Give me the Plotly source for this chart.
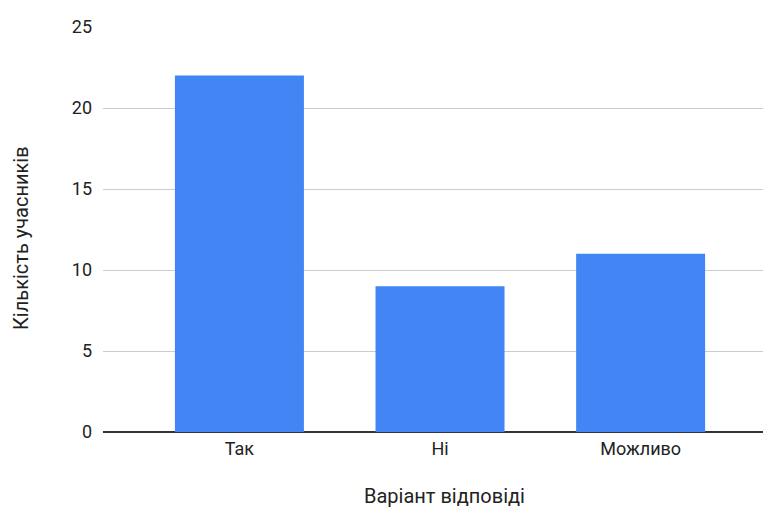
import plotly.graph_objects as go

categories = ["Так", "Ні", "Можливо"]
counts = [22, 9, 11]
y_ticks = [0, 5, 10, 15, 20, 25]

fig = go.Figure(
    go.Bar(
        x=categories,
        y=counts,
        width=0.643,
        marker=dict(color="#4285f4", line=dict(width=0)),
        hoverinfo="x+y",
    )
)

font = dict(family="Roboto, Arial, sans-serif", size=18, color="#222222")

fig.update_layout(
    width=763,
    height=509,
    margin=dict(l=103, r=0, t=27, b=77),
    paper_bgcolor="white",
    plot_bgcolor="white",
    showlegend=False,
    font=font,
    xaxis=dict(
        type="category",
        range=[-0.68, 2.61],
        showgrid=False,
        showline=False,
        ticks="",
        ticklabelstandoff=4,
        tickfont=dict(size=18, color="#222222"),
        fixedrange=True,
    ),
    yaxis=dict(
        range=[0, 25],
        tickvals=y_ticks,
        showgrid=True,
        gridcolor="#cccccc",
        gridwidth=1,
        zeroline=True,
        zerolinecolor="#333333",
        zerolinewidth=1.5,
        showline=False,
        ticks="",
        ticklabelstandoff=10,
        tickfont=dict(size=18, color="#222222"),
        fixedrange=True,
    ),
    annotations=[
        dict(
            text="Варіант відповіді",
            xref="paper", yref="paper",
            x=(444 - 103) / 660, y=-(496 - 432) / 405,
            showarrow=False, xanchor="center", yanchor="middle",
            borderpad=0,
            font=dict(size=20, color="#222222"),
        ),
        dict(
            text="Кількість учасників",
            xref="paper", yref="paper",
            x=-(103 - 21) / 660, y=(432 - 238) / 405,
            textangle=-90,
            showarrow=False, xanchor="center", yanchor="middle",
            font=dict(size=20, color="#222222"),
        ),
    ],
)

fig.write_html("out.html")
